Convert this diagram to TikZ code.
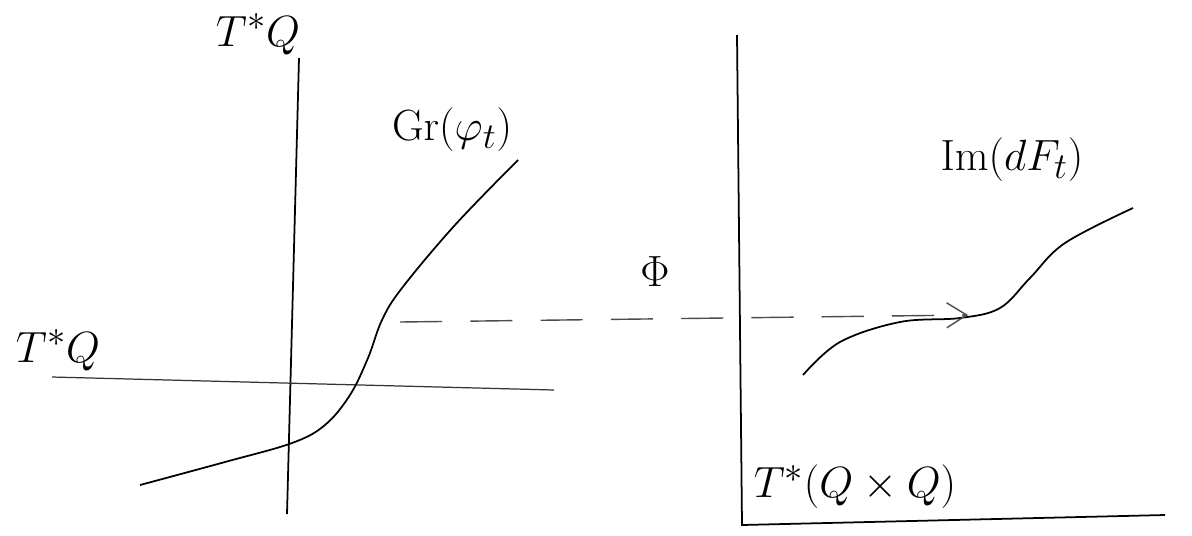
\documentclass[tikz,border=0pt]{standalone}
\usepackage{amsmath}
\usepackage{tikz}
\usetikzlibrary{arrows.meta}
\tikzset{
  >={Straight Barb[length=4mm,width=5mm]},
  axis/.style={line width=1pt,black},
  curve/.style={line width=1pt,black,smooth,tension=0.6},
  lbl/.style={inner sep=0pt,font=\fontsize{28}{32}\selectfont},
  maparrow/.style={->,line width=0.8pt,black!70,dash pattern=on 24pt off 16pt},
}

\begin{document}
\begin{tikzpicture}[x=0.02cm,y=-0.02cm]
    \useasboundingbox (0,0) rectangle (1192,535);
    % left picture: T*Q with the graph
    \coordinate (lvtop) at (299,58);
    \coordinate (lvbot) at (287,514);
    \coordinate (lhleft) at (52,377);
    \coordinate (lhright) at (554,390);
    \draw[axis] (lvtop) -- (lvbot);
    \draw[line width=0.7pt,black!80] (lhleft) -- (lhright);
    \node[lbl] (tqv) at (258,34) {$T^{*}Q$};
    \node[lbl] (tqh) at (58,350) {$T^{*}Q$};
    \draw[curve] plot coordinates {(140,485) (225,462) (292,443) (325,425) (350,395)
        (368,358) (382,320) (402,288) (455,225) (518,160)};
    \node[lbl] (gr) at (452,130) {$\mathrm{Gr}(\varphi_t)$};
    % right picture: T*(QxQ) with the image
    \coordinate (rvtop) at (737,35);
    \coordinate (rvbot) at (742,525);
    \coordinate (rhright) at (1165,515);
    \draw[axis] (rvtop) -- (rvbot) -- (rhright);
    \node[lbl] (tqq) at (855,487) {$T^{*}(Q\times Q)$};
    \draw[curve] plot coordinates {(803,375) (840,342) (900,322) (960,318) (1000,308)
        (1030,278) (1065,243) (1133,208)};
    \node[lbl] (im) at (1012,160) {$\mathrm{Im}(dF_t)$};
    % the map
    \coordinate (src) at (400,322);
    \coordinate (dst) at (968,315);
    \draw[maparrow] (src) -- (dst);
    \node[lbl] (phi) at (655,272) {$\Phi$};
\end{tikzpicture}
\end{document}
